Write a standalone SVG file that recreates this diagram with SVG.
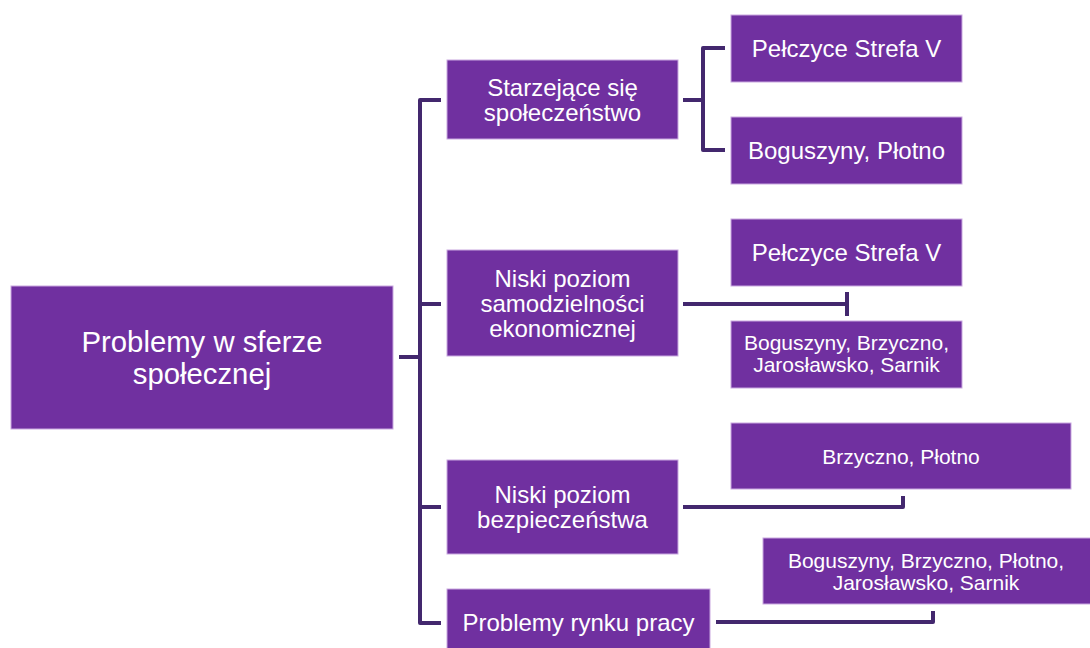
<svg xmlns="http://www.w3.org/2000/svg" width="1090" height="648" viewBox="0 0 1090 648">
<style>
.box{fill:#7030A0;stroke:#C9A8E0;stroke-width:1}
.t{font-family:"Liberation Sans",Arial,sans-serif;fill:#ffffff;text-anchor:middle}
.c{fill:none;stroke:#43286E;stroke-width:4;stroke-linejoin:round;stroke-linecap:butt}
</style>
<rect width="1090" height="648" fill="#ffffff"/>
<g id="connectors">
<path class="c" d="M399,357 H420 M441,100 H420 V623 H441 M420,304 H441 M420,507 H441"/>
<path class="c" d="M683,100 H703 M725,48 H703 V150 H725"/>
<path class="c" d="M683,304 H847 M847,292 V316"/>
<path class="c" d="M683,507 H903 V496"/>
<path class="c" d="M716,622 H933 V611"/>
</g>
<g id="root">
<rect class="box" x="11" y="286" width="382" height="143"/>
<text class="t" font-size="29.3"><tspan x="202" y="352">Problemy w sferze</tspan><tspan x="202" y="384">społecznej</tspan></text>
</g>
<g id="n1">
<rect class="box" x="447" y="60" width="231" height="79"/>
<text class="t" font-size="24"><tspan x="562.5" y="96">Starzejące się</tspan><tspan x="562.5" y="121">społeczeństwo</tspan></text>
</g>
<g id="n2">
<rect class="box" x="447" y="250" width="231" height="106"/>
<text class="t" font-size="24"><tspan x="562.5" y="287">Niski poziom</tspan><tspan x="562.5" y="312">samodzielności</tspan><tspan x="562.5" y="337">ekonomicznej</tspan></text>
</g>
<g id="n3">
<rect class="box" x="447" y="460" width="231" height="94"/>
<text class="t" font-size="24"><tspan x="562.5" y="503">Niski poziom</tspan><tspan x="562.5" y="528">bezpieczeństwa</tspan></text>
</g>
<g id="n4">
<rect class="box" x="447" y="589" width="263" height="70"/>
<text class="t" font-size="24" x="578.5" y="631">Problemy rynku pracy</text>
</g>
<g id="c1">
<rect class="box" x="731" y="15" width="231" height="67"/>
<text class="t" font-size="24" x="846.5" y="57">Pełczyce Strefa V</text>
</g>
<g id="c2">
<rect class="box" x="731" y="117" width="231" height="67"/>
<text class="t" font-size="24" x="846.5" y="159">Boguszyny, Płotno</text>
</g>
<g id="c3">
<rect class="box" x="731" y="219" width="231" height="67"/>
<text class="t" font-size="24" x="846.5" y="261">Pełczyce Strefa V</text>
</g>
<g id="c4">
<rect class="box" x="731" y="321" width="231" height="67"/>
<text class="t" font-size="21"><tspan x="846.5" y="350">Boguszyny, Brzyczno,</tspan><tspan x="846.5" y="372">Jarosławsko, Sarnik</tspan></text>
</g>
<g id="c5">
<rect class="box" x="731" y="423" width="340" height="66"/>
<text class="t" font-size="21" x="901" y="464">Brzyczno, Płotno</text>
</g>
<g id="c6">
<rect class="box" x="763" y="538" width="330" height="66"/>
<text class="t" font-size="21"><tspan x="926" y="568">Boguszyny, Brzyczno, Płotno,</tspan><tspan x="926" y="590">Jarosławsko, Sarnik</tspan></text>
</g>
</svg>
